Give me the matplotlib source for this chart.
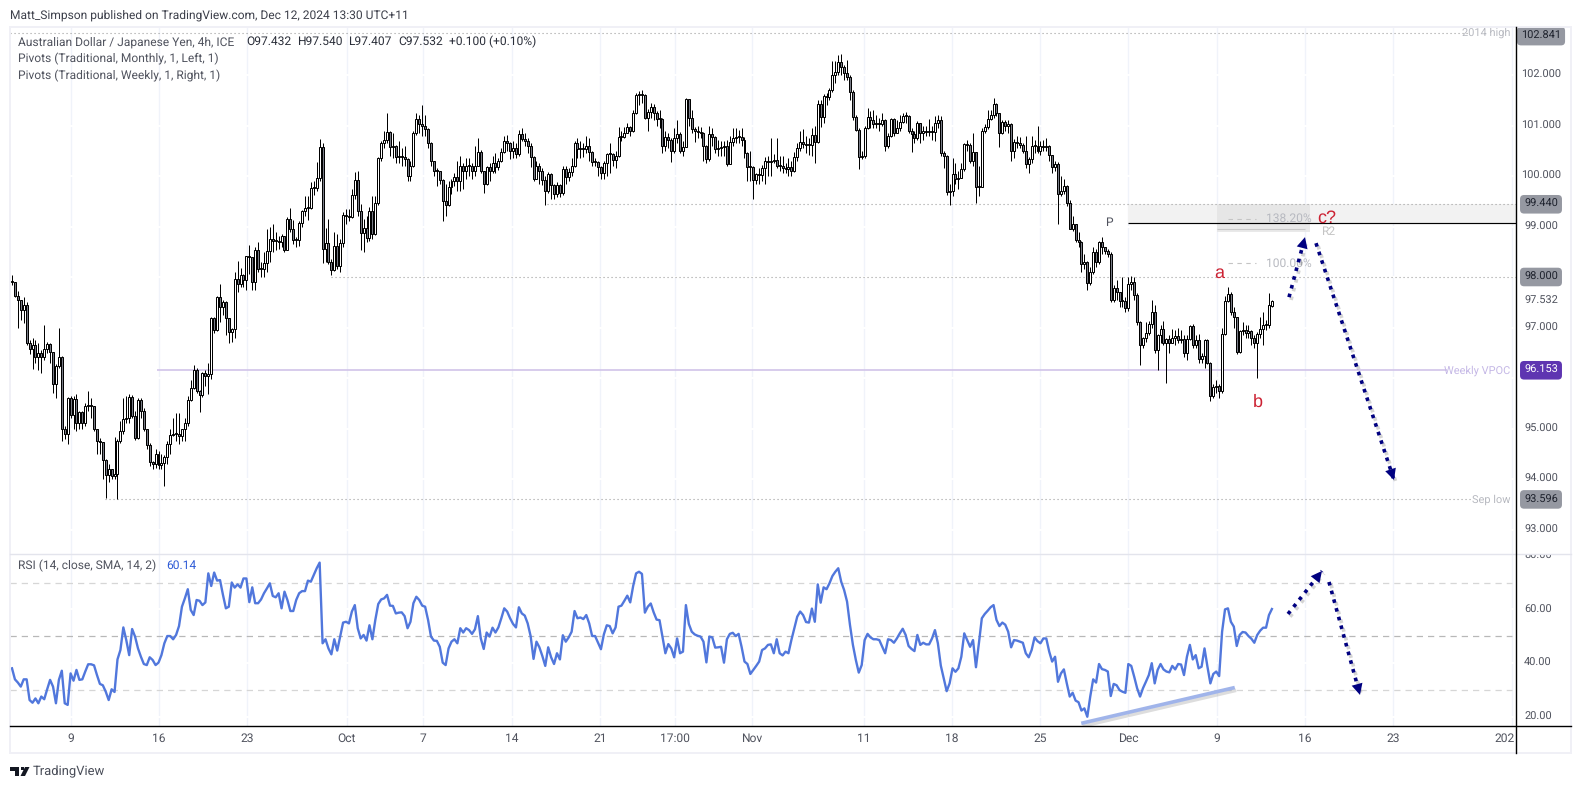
import matplotlib
matplotlib.use('Agg')
import matplotlib.pyplot as plt
import matplotlib.patheffects as pe
from matplotlib.patches import Rectangle, Polygon
from matplotlib.transforms import Bbox

closes = [
    97.90, 97.62, 97.55, 97.35, 97.44, 96.69, 96.57, 96.65, 96.41, 96.50,
    96.41, 96.57, 96.68, 96.52, 95.88, 96.23, 96.42, 95.00, 94.90, 95.60,
    95.26, 95.58, 95.10, 95.32, 95.10, 95.44, 95.45, 95.44, 95.00, 94.76,
    94.73, 94.38, 94.07, 94.20, 94.05, 94.10, 94.75, 94.95, 95.18, 95.20,
    95.63, 95.24, 94.82, 95.57, 95.34, 95.00, 94.68, 94.33, 94.29, 94.50,
    94.27, 94.32, 94.44, 94.70, 94.88, 94.90, 94.90, 94.85, 95.00, 95.10,
    95.57, 95.80, 96.15, 95.75, 95.66, 96.09, 96.03, 96.08, 97.18, 96.95,
    97.60, 97.40, 97.50, 97.18, 96.92, 96.97, 97.96, 97.86, 98.03, 97.95,
    98.41, 98.40, 97.91, 98.53, 98.16, 98.16, 98.28, 98.52, 98.75, 98.72,
    98.72, 98.70, 98.82, 98.54, 99.14, 98.96, 98.73, 98.73, 99.06, 99.30,
    99.37, 99.37, 99.77, 99.77, 99.97, 100.57, 98.55, 98.68, 98.30, 98.13,
    98.62, 98.22, 98.67, 99.22, 99.20, 99.18, 99.63, 99.93, 99.30, 98.88,
    98.98, 98.78, 99.31, 98.85, 99.46, 100.35, 100.66, 100.72, 100.88, 100.57,
    100.60, 100.37, 100.40, 100.38, 100.34, 100.00, 100.20, 100.85, 101.12, 101.03,
    101.00, 100.93, 100.66, 100.29, 100.10, 100.09, 99.93, 99.51, 99.42, 99.78,
    99.90, 99.98, 99.91, 100.20, 100.10, 100.20, 100.20, 100.10, 100.20, 100.48,
    100.10, 99.85, 100.17, 100.09, 100.26, 100.17, 100.30, 100.48, 100.70, 100.65,
    100.49, 100.55, 100.43, 100.83, 100.73, 100.70, 100.59, 100.38, 99.95, 100.20,
    100.10, 99.93, 99.70, 100.04, 99.83, 99.64, 99.83, 99.67, 100.14, 99.99,
    100.07, 100.20, 100.66, 100.53, 100.55, 100.53, 100.60, 100.47, 100.27, 100.27,
    100.17, 100.06, 100.26, 100.43, 100.43, 100.32, 100.40, 100.78, 100.78, 100.86,
    100.97, 100.90, 101.25, 101.60, 101.63, 101.60, 101.15, 101.27, 101.36, 101.24,
    101.13, 101.13, 100.60, 100.77, 100.71, 100.50, 100.76, 100.84, 100.50, 100.58,
    101.52, 101.14, 100.94, 100.90, 100.88, 100.85, 100.60, 100.33, 100.84, 100.77,
    100.54, 100.55, 100.58, 100.60, 100.24, 100.68, 100.76, 100.78, 100.77, 100.72,
    100.45, 100.18, 100.17, 99.93, 100.03, 100.02, 100.15, 100.30, 100.28, 100.30,
    100.32, 100.20, 100.20, 100.15, 100.13, 100.17, 100.10, 100.37, 100.55, 100.68,
    100.64, 100.62, 100.62, 100.81, 100.68, 101.42, 101.16, 101.58, 101.56, 101.70,
    102.00, 102.05, 102.26, 102.16, 102.03, 101.97, 101.67, 101.16, 100.92, 100.38,
    100.40, 100.96, 101.17, 101.10, 101.03, 101.05, 101.03, 101.10, 100.60, 100.80,
    101.12, 100.86, 100.96, 101.07, 101.18, 101.18, 100.90, 100.83, 100.76, 101.05,
    100.85, 100.90, 100.88, 100.88, 100.87, 101.04, 101.10, 100.45, 100.40, 99.69,
    99.70, 100.04, 99.95, 99.97, 100.13, 100.63, 100.62, 100.30, 100.47, 99.78,
    99.78, 100.90, 100.98, 101.12, 101.20, 101.42, 101.24, 100.85, 101.07, 101.00,
    101.03, 100.50, 100.67, 100.66, 100.61, 100.50, 100.24, 100.33, 100.60, 100.60,
    100.50, 100.60, 100.58, 100.60, 100.42, 100.17, 100.24, 99.64, 99.70, 99.80,
    99.46, 98.96, 99.05, 98.73, 98.70, 98.25, 98.30, 97.89, 98.10, 98.49,
    98.30, 98.70, 98.60, 98.52, 98.45, 97.55, 97.79, 97.70, 97.53, 97.52,
    97.38, 97.87, 97.90, 97.65, 97.10, 96.65, 96.80, 96.90, 97.07, 97.31,
    96.55, 96.85, 96.98, 96.70, 96.77, 96.70, 96.80, 96.83, 96.75, 96.78,
    96.50, 96.78, 97.03, 96.65, 96.75, 96.37, 96.43, 96.75, 96.30, 95.65,
    95.83, 95.85, 95.75, 96.87, 97.53, 97.67, 97.30, 97.20, 96.52, 96.93,
    96.95, 96.90, 96.93, 96.80, 96.70, 96.88, 96.98, 97.05, 97.05, 97.44,
    97.532,
]

highs = [
    98.04, 97.90, 97.72, 97.55, 97.60, 97.50, 96.75, 96.80, 96.75, 96.70,
    96.55, 97.05, 96.72, 96.70, 96.52, 96.27, 97.00, 96.43, 95.05, 95.62,
    95.65, 95.65, 95.68, 95.35, 95.34, 95.50, 95.75, 95.60, 95.45, 95.00,
    94.82, 94.40, 94.40, 94.30, 94.20, 94.83, 94.80, 95.15, 95.60, 95.65,
    95.68, 95.66, 95.35, 95.60, 95.60, 95.40, 95.00, 94.72, 94.35, 94.60,
    94.55, 94.50, 94.48, 94.75, 95.00, 95.20, 95.30, 95.30, 95.00, 95.20,
    95.65, 95.97, 96.25, 96.20, 95.77, 96.12, 96.15, 96.30, 97.20, 97.20,
    97.62, 97.87, 97.55, 97.52, 97.17, 97.00, 98.10, 98.32, 98.17, 98.05,
    98.42, 98.63, 98.40, 98.60, 98.70, 98.30, 98.50, 98.95, 99.00, 99.05,
    98.90, 98.82, 98.85, 98.80, 99.18, 99.36, 99.12, 98.80, 99.10, 99.33,
    99.60, 99.60, 99.88, 99.90, 100.27, 100.73, 100.65, 98.98, 99.15, 98.35,
    98.90, 98.85, 98.75, 99.28, 99.35, 99.35, 99.75, 100.08, 100.10, 99.45,
    99.15, 99.20, 99.38, 99.60, 99.60, 100.38, 100.70, 100.90, 101.25, 100.90,
    100.85, 100.62, 100.70, 100.55, 100.60, 100.36, 100.30, 100.90, 101.25, 101.20,
    101.40, 101.20, 100.95, 100.68, 100.30, 100.15, 100.10, 99.95, 99.85, 99.90,
    99.95, 100.05, 100.30, 100.40, 100.25, 100.35, 100.35, 100.25, 100.60, 100.75,
    100.52, 100.10, 100.20, 100.25, 100.40, 100.45, 100.35, 100.55, 100.80, 100.82,
    100.68, 100.70, 100.65, 100.92, 100.95, 100.85, 100.75, 100.65, 100.40, 100.30,
    100.25, 100.15, 100.00, 100.07, 100.05, 99.85, 99.88, 99.85, 100.20, 100.20,
    100.15, 100.35, 100.70, 100.75, 100.70, 100.65, 100.80, 100.75, 100.50, 100.35,
    100.30, 100.20, 100.30, 100.45, 100.65, 100.45, 100.50, 100.98, 100.90, 100.98,
    101.05, 101.00, 101.30, 101.65, 101.68, 101.70, 101.62, 101.32, 101.45, 101.42,
    101.28, 101.30, 101.15, 100.90, 100.85, 100.75, 100.95, 101.10, 100.87, 100.70,
    101.55, 101.53, 101.30, 100.98, 101.00, 100.98, 100.88, 100.62, 101.00, 100.95,
    100.80, 100.72, 100.70, 100.70, 100.72, 100.80, 100.95, 100.95, 100.92, 100.95,
    100.78, 100.47, 100.50, 100.20, 100.05, 100.15, 100.22, 100.38, 100.40, 100.75,
    100.43, 100.75, 100.40, 100.40, 100.25, 100.35, 100.30, 100.47, 100.65, 100.90,
    100.93, 100.80, 100.75, 100.95, 101.00, 101.50, 101.50, 101.62, 101.65, 101.75,
    102.27, 102.28, 102.40, 102.42, 102.20, 102.30, 102.00, 101.70, 101.20, 100.95,
    100.50, 101.00, 101.35, 101.28, 101.30, 101.20, 101.15, 101.25, 101.12, 100.85,
    101.15, 101.15, 101.10, 101.20, 101.25, 101.27, 101.20, 100.95, 100.90, 101.08,
    101.05, 101.00, 101.00, 101.12, 101.00, 101.18, 101.20, 101.18, 100.50, 100.42,
    99.85, 100.35, 100.25, 100.10, 100.25, 100.65, 100.72, 100.65, 100.85, 100.48,
    100.20, 100.95, 101.03, 101.30, 101.30, 101.55, 101.45, 101.25, 101.10, 101.10,
    101.10, 101.05, 100.73, 100.80, 100.78, 100.65, 100.80, 100.37, 100.80, 100.72,
    101.00, 100.70, 100.72, 100.75, 100.62, 100.42, 100.30, 100.27, 100.00, 99.95,
    99.82, 99.52, 99.20, 99.05, 98.90, 98.72, 98.45, 98.32, 98.20, 98.60,
    98.55, 98.72, 98.80, 98.55, 98.55, 98.50, 97.85, 97.95, 97.70, 98.00,
    97.60, 98.00, 98.02, 98.00, 97.68, 97.12, 96.82, 97.10, 97.13, 97.55,
    97.45, 96.88, 97.05, 97.12, 96.80, 96.85, 96.97, 96.95, 97.00, 96.95,
    96.85, 96.85, 97.05, 97.07, 96.85, 96.88, 96.50, 96.78, 96.77, 96.32,
    95.88, 95.97, 95.88, 97.00, 97.62, 97.80, 97.70, 97.40, 97.20, 96.95,
    97.10, 97.05, 97.05, 96.95, 96.85, 96.92, 97.20, 97.30, 97.15, 97.68,
    97.54,
]

lows = [
    97.85, 97.60, 97.00, 97.15, 97.08, 96.65, 96.48, 96.17, 96.30, 96.15,
    96.10, 96.35, 96.50, 96.30, 95.70, 95.60, 96.20, 94.75, 94.80, 94.70,
    95.20, 95.00, 94.95, 95.00, 95.00, 95.05, 95.35, 95.20, 94.95, 94.50,
    94.50, 94.00, 93.62, 93.95, 94.00, 94.00, 93.60, 94.72, 94.90, 95.10,
    95.10, 95.20, 94.78, 94.80, 95.20, 94.95, 94.60, 94.25, 94.20, 94.22,
    94.20, 94.20, 93.87, 94.30, 94.50, 94.85, 94.75, 94.70, 94.75, 94.75,
    95.05, 95.55, 95.78, 95.70, 95.33, 95.62, 95.85, 95.68, 95.98, 96.90,
    96.93, 97.10, 97.25, 96.85, 96.70, 96.72, 96.80, 97.70, 97.80, 97.80,
    97.75, 98.05, 97.75, 97.75, 98.10, 98.00, 98.00, 98.10, 98.30, 98.50,
    98.54, 98.55, 98.60, 98.50, 98.53, 98.90, 98.65, 98.60, 98.62, 99.00,
    99.20, 99.13, 99.34, 99.62, 99.70, 99.90, 98.27, 98.30, 98.25, 98.03,
    98.12, 98.15, 98.09, 98.60, 99.05, 99.10, 99.17, 99.55, 99.20, 98.53,
    98.50, 98.70, 98.72, 98.75, 98.83, 99.42, 100.30, 100.55, 100.65, 100.40,
    100.35, 100.25, 100.25, 100.20, 100.20, 99.90, 99.90, 100.17, 100.82, 100.85,
    100.80, 100.80, 100.55, 100.20, 100.00, 99.80, 99.85, 99.10, 99.20, 99.40,
    99.65, 99.80, 99.70, 99.70, 99.75, 99.95, 100.00, 99.95, 100.00, 100.20,
    100.05, 99.67, 99.83, 99.90, 100.05, 100.05, 100.12, 100.28, 100.45, 100.50,
    100.33, 100.35, 100.35, 100.40, 100.70, 100.60, 100.45, 100.18, 99.90, 99.95,
    99.85, 99.82, 99.43, 99.67, 99.55, 99.55, 99.58, 99.58, 99.62, 99.85,
    99.90, 100.00, 100.18, 100.35, 100.35, 100.38, 100.45, 100.30, 100.20, 100.20,
    100.00, 99.95, 99.95, 100.00, 100.05, 100.20, 100.15, 100.38, 100.70, 100.75,
    100.85, 100.80, 100.88, 101.22, 101.40, 101.45, 101.12, 100.90, 101.15, 101.10,
    101.00, 100.95, 100.45, 100.50, 100.55, 100.28, 100.45, 100.65, 100.45, 100.40,
    100.85, 101.00, 100.85, 100.68, 100.75, 100.75, 100.30, 100.25, 100.30, 100.60,
    100.45, 100.40, 100.40, 100.40, 100.20, 100.28, 100.60, 100.65, 100.65, 100.60,
    100.35, 99.90, 99.90, 99.55, 99.85, 99.85, 99.90, 99.85, 100.00, 100.00,
    100.25, 100.15, 100.10, 100.05, 100.05, 100.00, 100.00, 100.08, 100.30, 100.50,
    100.55, 100.45, 100.42, 100.40, 100.25, 100.65, 100.98, 101.05, 101.40, 101.50,
    101.67, 101.85, 102.00, 102.00, 101.90, 101.90, 101.50, 101.10, 100.90, 100.14,
    100.33, 100.35, 100.93, 100.95, 100.95, 100.95, 100.90, 101.00, 100.50, 100.55,
    100.78, 100.80, 100.85, 100.90, 101.05, 101.05, 100.85, 100.47, 100.65, 100.72,
    100.65, 100.72, 100.80, 100.80, 100.72, 100.70, 100.95, 100.40, 100.15, 99.62,
    99.42, 99.60, 99.85, 99.75, 99.97, 100.10, 100.50, 100.25, 100.20, 99.47,
    99.60, 99.78, 100.85, 100.93, 101.10, 101.15, 101.18, 100.58, 100.83, 100.90,
    100.85, 100.30, 100.35, 100.55, 100.55, 100.45, 100.15, 100.05, 100.25, 100.45,
    100.45, 100.42, 100.50, 100.50, 100.30, 100.05, 100.10, 99.05, 99.60, 99.65,
    99.40, 98.95, 98.92, 98.70, 98.60, 98.10, 98.15, 97.75, 97.85, 98.05,
    98.20, 98.25, 98.45, 98.45, 98.40, 97.50, 97.50, 97.55, 97.40, 97.40,
    97.30, 97.32, 97.75, 97.55, 97.05, 96.25, 96.60, 96.72, 96.85, 97.00,
    96.50, 96.15, 96.70, 96.65, 95.90, 96.50, 96.70, 96.65, 96.70, 96.70,
    96.42, 96.35, 96.75, 96.60, 96.60, 96.30, 96.30, 96.20, 96.28, 95.55,
    95.60, 95.70, 95.60, 95.70, 96.85, 97.50, 97.25, 97.00, 96.48, 96.50,
    96.85, 96.80, 96.80, 96.65, 96.60, 96.00, 96.80, 96.65, 96.95, 97.00,
    97.407,
]

rsi = [
    38.1, 34.0, 32.8, 31.3, 34.0, 34.0, 26.3, 25.3, 26.9, 25.1,
    27.6, 26.6, 30.3, 33.8, 31.3, 25.1, 33.8, 37.2, 25.1, 24.5,
    36.2, 33.5, 37.5, 33.8, 34.0, 36.9, 39.6, 39.6, 39.2, 35.6,
    32.3, 31.8, 29.4, 26.3, 30.3, 29.3, 41.4, 44.9, 53.3, 48.6,
    43.0, 52.7, 49.9, 45.5, 42.4, 39.7, 39.3, 42.2, 41.2, 39.3,
    40.2, 43.0, 47.4, 50.1, 50.1, 48.9, 50.5, 53.8, 61.0, 64.1,
    67.5, 59.8, 57.9, 63.5, 63.2, 61.6, 62.6, 73.4, 68.7, 73.7,
    70.7, 70.9, 65.4, 60.4, 61.0, 70.0, 68.1, 69.3, 68.1, 71.5,
    71.5, 62.7, 68.2, 62.3, 62.3, 63.7, 66.0, 67.8, 69.7, 65.0,
    64.5, 66.0, 60.4, 66.6, 63.5, 59.4, 59.4, 63.5, 66.0, 66.8,
    66.8, 70.7, 70.3, 72.8, 75.3, 77.4, 47.4, 48.9, 45.5, 43.3,
    48.9, 44.7, 49.9, 55.1, 55.4, 54.8, 59.2, 61.6, 53.0, 49.2,
    50.5, 48.4, 54.1, 48.9, 56.1, 62.0, 63.7, 64.1, 65.4, 61.4,
    61.3, 58.5, 58.8, 58.9, 57.5, 53.0, 55.4, 62.3, 64.7, 63.5,
    61.4, 61.0, 56.1, 49.9, 48.4, 48.3, 46.1, 40.2, 39.3, 45.5,
    48.0, 48.9, 47.4, 53.0, 51.4, 53.0, 52.3, 50.9, 52.6, 57.5,
    49.2, 45.3, 51.4, 49.9, 53.2, 51.4, 53.3, 56.7, 60.4, 59.2,
    56.7, 54.6, 53.3, 60.8, 58.5, 57.7, 54.8, 50.1, 41.6, 48.0,
    45.9, 42.7, 39.0, 45.9, 42.2, 39.7, 43.7, 41.4, 50.4, 48.0,
    49.6, 51.7, 59.4, 56.7, 57.0, 56.4, 57.9, 54.8, 50.1, 50.1,
    47.6, 45.2, 50.7, 54.1, 53.8, 51.1, 53.3, 61.0, 61.4, 63.2,
    65.1, 62.6, 68.7, 73.4, 74.0, 73.2, 58.8, 61.0, 62.2, 58.9,
    56.2, 56.0, 49.9, 43.7, 47.1, 45.5, 42.2, 49.2, 43.7, 44.3,
    61.6, 54.6, 51.7, 50.7, 50.2, 49.9, 48.0, 40.3, 49.9, 49.6,
    45.8, 45.9, 46.1, 40.2, 48.9, 50.9, 51.3, 50.1, 50.9, 46.1,
    40.6, 39.7, 36.0, 37.5, 39.0, 40.6, 44.9, 45.5, 46.8, 47.0,
    43.7, 48.9, 43.7, 42.9, 44.3, 43.7, 48.6, 53.0, 57.3, 59.2,
    57.9, 55.3, 55.1, 60.3, 55.4, 69.3, 62.5, 68.2, 67.5, 69.7,
    72.4, 74.0, 75.3, 70.3, 67.2, 62.9, 54.2, 46.8, 41.2, 36.5,
    39.3, 48.6, 50.9, 49.6, 48.9, 48.9, 48.6, 46.1, 43.7, 48.9,
    48.6, 47.6, 49.2, 51.1, 52.8, 50.5, 46.4, 45.3, 44.5, 50.5,
    46.8, 47.6, 47.0, 47.0, 49.2, 52.3, 47.4, 39.1, 34.4, 29.6,
    32.5, 38.1, 36.8, 38.1, 42.4, 51.1, 48.6, 46.1, 48.6, 38.5,
    47.4, 56.7, 58.3, 59.5, 60.8, 61.6, 56.1, 53.8, 55.1, 54.3,
    51.7, 45.9, 48.6, 48.4, 48.0, 47.6, 43.7, 42.2, 44.9, 49.6,
    48.2, 47.4, 49.2, 49.2, 44.3, 40.6, 42.4, 33.1, 36.2, 37.7,
    32.5, 27.6, 29.0, 26.1, 25.5, 22.4, 23.2, 20.1, 27.6, 34.0,
    32.8, 39.7, 37.8, 37.5, 36.9, 27.8, 32.3, 31.8, 30.0, 29.4,
    29.0, 39.7, 39.0, 35.0, 30.7, 27.6, 30.7, 33.1, 35.6, 40.0,
    32.5, 37.5, 39.7, 37.7, 36.9, 36.6, 39.0, 37.7, 39.7, 39.5,
    35.6, 42.4, 46.8, 41.4, 43.0, 38.1, 38.7, 45.5, 38.7, 32.5,
    36.0, 36.9, 35.2, 51.7, 60.0, 60.4, 55.4, 53.6, 46.4, 50.5,
    51.6, 51.4, 50.1, 49.1, 47.6, 50.5, 52.1, 53.2, 53.2, 57.9,
    60.14,
]

time_tick_pos = [20.1, 50.2, 80.2, 114.3, 140.3, 170.7, 200.7, 226.3, 252.6,
                 290.8, 320.8, 350.9, 380.9, 411.3, 441.2, 471.3, 511.9]
time_tick_labels = ['9', '16', '23', 'Oct', '7', '14', '21', '17:00', 'Nov',
                    '11', '18', '25', 'Dec', '9', '16', '23', '202']
price_ticks = [102, 101, 100, 99, 97, 95, 94, 93]
price_tags = [102.841, 99.44, 98.0, 93.596]
rsi_ticks = [80, 60, 40, 20]

W, H = 1582, 789
BAR_PX = 2.93
GRID = '#f0f3fa'
LABEL = '#50535e'


# the chart is laid out in screen pixels, so these go from pixels to the scales
def bar_at(x):
    return (x - 12) / BAR_PX


def pane(left, top, right, bottom):
    ax = fig.add_axes([left / W, 1 - bottom / H, (right - left) / W, (bottom - top) / H])
    ax.set_xlim(bar_at(left), bar_at(right))
    ax.set_xticks([])
    ax.set_yticks([])
    for s in ax.spines.values():
        s.set_visible(False)
    ax.patch.set_alpha(0)
    return ax


def dotted_arrow(ax, x0, y0, x1, y1):
    shadow = [pe.SimpleLineShadow(offset=(1.5, -2), shadow_color='#555555', alpha=0.25), pe.Normal()]
    ax.plot([x0, x1], [y0, y1], color='#000080', lw=2.6, ls=(0, (1, 1.5)), path_effects=shadow, zorder=6)
    ax.annotate('', xy=(x1, y1), xytext=(x0 + (x1 - x0) * 0.9, y0 + (y1 - y0) * 0.9),
                arrowprops=dict(arrowstyle='-|>', color='#000080', lw=0, mutation_scale=20,
                                shrinkA=0, shrinkB=0), zorder=7)


def main():
    global fig
    plt.rcParams['font.family'] = ['Roboto', 'DejaVu Sans']
    plt.rcParams['text.hinting'] = 'none'
    plt.rcParams['text.hinting_factor'] = 1
    fig = plt.figure(figsize=(W / 100, H / 100), dpi=100, facecolor='white')

    price = pane(10, 27, 1516, 554)
    price.set_ylim(102 - (554 - 75) / 50.5, 102 + (75 - 27) / 50.5)
    osc = pane(10, 554, 1516, 726)
    osc.set_ylim(20 - (726 - 717) / 2.69, 20 + (717 - 554) / 2.69)

    # frame around the whole chart
    fig.add_artist(Rectangle((10 / W, 1 - 753 / H), 1561 / W, 726 / H, transform=fig.transFigure,
                             fill=False, ec='#f0f0f6', lw=1.4))
    fig.text(10 / W, 1 - 15 / H, 'Matt_Simpson published on TradingView.com, Dec 12, 2024 13:30 UTC+11',
             fontsize=8.9, color='#3c3f4a', va='center')

    # grid
    for ax in (price, osc):
        for t in time_tick_pos:
            ax.axvline(t, color=GRID, lw=1, zorder=0)
    for p in range(93, 103):
        price.axhline(p, color='white', lw=1.5, zorder=0.5)
    for v in (20, 40, 60):
        osc.axhline(v, color='white', lw=1.5, zorder=0.5)

    # level lines
    dots = dict(color='#9e9e9e', lw=0.8, ls=(0, (1, 2.6)), zorder=1)
    price.hlines(102.841, bar_at(10), bar_at(1468), **dots)
    price.hlines(99.44, bar_at(547), bar_at(1516), **dots)
    price.hlines(98.0, bar_at(331), bar_at(1516), **dots)
    price.hlines(93.596, bar_at(105), bar_at(1472), **dots)
    price.hlines(96.153, bar_at(157), bar_at(1447), color='#d1c4e9', lw=1.2, zorder=1)

    # pivots and fib boxes
    price.add_patch(Rectangle((bar_at(1128), 99.07), bar_at(1516) - bar_at(1128), 0.38, color='#f2f2f2', lw=0, zorder=0.8))
    price.add_patch(Rectangle((bar_at(1217), 98.9), bar_at(1310) - bar_at(1217), 0.55, color='#e4e4e4', lw=0, alpha=0.8, zorder=0.9))
    price.hlines(98.95, bar_at(1217), bar_at(1305), color='#c9c9c9', lw=0.8, zorder=1)
    price.hlines(99.07, bar_at(1128), bar_at(1516), color='black', lw=0.85, zorder=2)

    # candles
    idx = list(range(len(closes)))
    opens = [closes[0]] + closes[:-1]
    opens[-1] = 97.432
    bottoms = [min(o, c) for o, c in zip(opens, closes)]
    sizes = [max(abs(c - o), 0.02) for o, c in zip(opens, closes)]
    colors = ['white' if c >= o else '#787b86' for o, c in zip(opens, closes)]
    price.vlines(idx, lows, highs, color='black', lw=0.72, zorder=3)
    price.bar(idx, sizes, bottom=bottoms, width=0.68, color=colors, edgecolor='black', lw=0.72, zorder=4)

    # chart notes
    grey = '#b7b9c0'
    price.text(bar_at(1109), 99.07, 'P', color='#50535e', fontsize=8.5, ha='center', va='center', zorder=5)
    price.text(bar_at(1328), 98.90, 'R2', color='#c4c4c4', fontsize=8.5, ha='center', va='center', zorder=5)
    for lvl, lab in ((99.15, '138.20%'), (98.27, '100.00%')):
        price.hlines(lvl, bar_at(1228), bar_at(1256), color='#c4c4c4', lw=0.8, ls=(0, (4, 4)), zorder=5)
        price.text(bar_at(1312), lvl, lab, color=grey, fontsize=8.9, ha='right', va='center', zorder=5)
    red = dict(color='#cc2233', family=['Liberation Sans', 'DejaVu Sans'], ha='center', va='center', zorder=8)
    price.text(bar_at(1219), 98.08, 'a', fontsize=13, **red)
    price.text(bar_at(1258), 95.52, 'b', fontsize=13, **red)
    price.text(bar_at(1327), 99.16, 'c?', fontsize=13, **red)
    price.text(bar_at(1510), 102.841, '2014 high', color=grey, fontsize=7.8, ha='right', va='center', zorder=5)
    price.text(bar_at(1510), 93.596, 'Sep low', color=grey, fontsize=7.8, ha='right', va='center', zorder=5)
    price.text(bar_at(1510), 96.153, 'Weekly VPOC', color='#c5b8e6', fontsize=7.8, ha='right', va='center', zorder=5)

    dotted_arrow(price, bar_at(1289), 97.60, bar_at(1305), 98.79)
    dotted_arrow(price, bar_at(1316), 98.67, bar_at(1394), 93.98)

    # legend
    leg = dict(fontsize=8.9, color=LABEL, va='center', zorder=9)
    fig.text(18 / W, 1 - 42 / H, 'Australian Dollar / Japanese Yen, 4h, ICE', **leg)
    for x, s in ((246, 'O97.432'), (297, 'H97.540'), (348, 'L97.407'), (398, 'C97.532'), (449, '+0.100 (+0.10%)')):
        fig.text(x / W, 1 - 42 / H, s, fontsize=8.8, color='#2a2e39', va='center')
    fig.text(18 / W, 1 - 59 / H, 'Pivots (Traditional, Monthly, 1, Left, 1)', **leg)
    fig.text(18 / W, 1 - 76 / H, 'Pivots (Traditional, Weekly, 1, Right, 1)', **leg)

    # rsi pane
    for v, c in ((70, '#d6d6d6'), (50, '#b8b8b8'), (30, '#d6d6d6')):
        osc.hlines(v, bar_at(10), bar_at(1512), color=c, lw=0.9, ls=(0, (5, 4)), zorder=1)
    osc.plot(idx, rsi, color='#5177dc', lw=1.7, zorder=3, solid_joinstyle='round')
    shadow = [pe.SimpleLineShadow(offset=(1, -2), shadow_color='#666666', alpha=0.22), pe.Normal()]
    osc.plot([bar_at(1083), bar_at(1233)], [17.8, 30.8], color='#a0b4ea', lw=2.6, path_effects=shadow, zorder=4)
    dotted_arrow(osc, bar_at(1288), 58.3, bar_at(1322), 74.3)
    dotted_arrow(osc, bar_at(1329), 70.2, bar_at(1360), 28.2)
    osc.text(bar_at(18), 76.2, 'RSI (14, close, SMA, 14, 2)', fontsize=8.9, color=LABEL, va='center')
    osc.text(bar_at(166), 76.2, '60.14', fontsize=8.9, color='#2e5bd6', va='center')

    # rsi/price separators and axes
    fig.add_artist(plt.Line2D([10 / W, 1571 / W], [1 - 554 / H] * 2, color='#e3e4ec', lw=1.0))
    fig.add_artist(plt.Line2D([1516 / W] * 2, [1 - 753 / H, 1 - 27 / H], color='black', lw=1.0, zorder=10))
    fig.add_artist(plt.Line2D([10 / W, 1571 / W], [1 - 726 / H] * 2, color='black', lw=1.0, zorder=10))

    # right scale
    lab_x = bar_at(1541)
    for p in price_ticks:
        price.text(lab_x, p, f'{p:.3f}', fontsize=8.1, color=LABEL, ha='center', va='center', clip_on=False)
    price.text(lab_x, 97.532, '97.532', fontsize=8.1, color=LABEL, ha='center', va='center', clip_on=False)
    for p in price_tags:
        y = 102.77 if p > 102 else p  # top tag sits under the pane edge
        price.text(lab_x, y, f'{p:.3f}', fontsize=8.1, color='#1e222d', ha='center', va='center', clip_on=False, zorder=12,
                   bbox=dict(boxstyle='round,pad=0.36', fc='#9598a1', ec='none'))
    price.text(lab_x, 96.153, '96.153', fontsize=8.1, color='white', ha='center', va='center', clip_on=False, zorder=12,
               bbox=dict(boxstyle='round,pad=0.36', fc='#5e35b1', ec='none'))
    for v in rsi_ticks:
        t = osc.text(bar_at(1538), v, f'{v:.2f}', fontsize=8.1, color=LABEL, ha='center', va='center', clip_on=True)
        t.set_clip_box(Bbox([[1516, H - 726], [1571, H - 554]]))

    # time scale
    for pos, lab in zip(time_tick_pos, time_tick_labels):
        ha = 'right' if lab == '202' else 'center'
        x = bar_at(1515) if lab == '202' else pos
        osc.annotate(lab, (x, 0), xycoords=osc.get_xaxis_transform(), xytext=(0, -13), textcoords='offset pixels',
                     fontsize=8.3, color=LABEL, ha=ha, va='center', annotation_clip=False)

    # tradingview mark
    mark = '#131722'
    for pts in ([(10, 767), (19, 767), (19, 776), (15, 776), (15, 770.5), (10, 770.5)],
                [(25, 767), (29.5, 767), (25, 776), (20.5, 776)]):
        fig.add_artist(Polygon([(x / W, 1 - y / H) for x, y in pts], transform=fig.transFigure, color=mark, lw=0))
    fig.add_artist(Polygon([(21 / W, 1 - 767 / H), (24 / W, 1 - 767 / H), (24 / W, 1 - 770 / H), (21 / W, 1 - 770 / H)],
                           transform=fig.transFigure, color=mark, lw=0))
    fig.text(33 / W, 1 - 772 / H, 'TradingView', fontsize=9.6, color='#4a4e59', va='center')

    fig.savefig('out.png', dpi=100)


if __name__ == '__main__':
    main()
